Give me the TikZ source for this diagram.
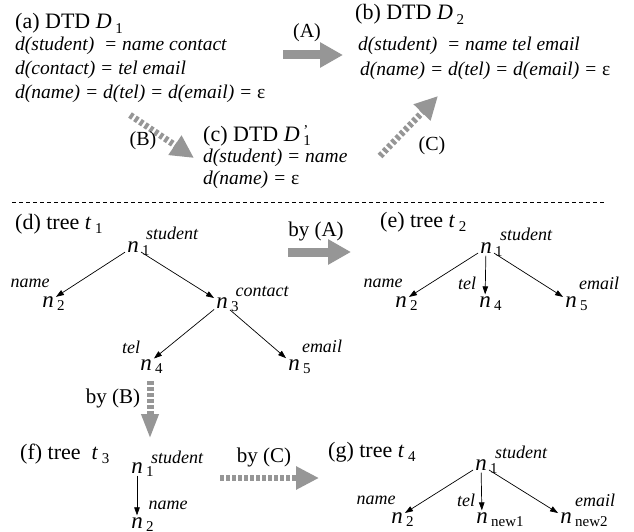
\documentclass[tikz,border=0pt]{standalone}
\usepackage{fontspec}
\setmainfont{Liberation Serif}
\usetikzlibrary{arrows.meta}
\definecolor{arrgray}{RGB}{150,150,150}
\newcommand\sbs[1]{\raisebox{-0.45ex}{\fontsize{15}{15}\selectfont #1}}
\newcommand\Done{\textit{D}\,\sbs{1}}
\begin{document}
\begin{tikzpicture}[x=1pt,y=-1pt,
  title/.style={anchor=base west, inner sep=0, font=\fontsize{22}{24}\selectfont},
  rule/.style={anchor=base west, inner sep=0, font=\fontsize{19.5}{22}\selectfont\itshape},
  lbl/.style={inner sep=0, font=\fontsize{18}{20}\selectfont\itshape},
  tn/.style={inner sep=2pt, font=\fontsize{23}{24}\selectfont\itshape},
  sub/.style={inner sep=0, anchor=west, xshift=1pt, yshift=-4pt, font=\fontsize{15}{15}\selectfont\upshape},
  lab/.style={inner sep=0, font=\fontsize{20}{22}\selectfont},
  edge/.style={-{Triangle[length=8pt,width=5.5pt]}, line width=0.7pt},
  bigarr/.style={arrgray, line width=9pt, -{Triangle[length=23pt,width=24pt]}},
  dasharr/.style={arrgray, line width=6.5pt, dash pattern=on 3.5pt off 2.5pt, -{Triangle[length=23pt,width=22pt]}}
]
\path[use as bounding box] (0,0) rectangle (634,532);

% ---------- DTDs ----------
\node[title] (ta) at (15,29) {(a) DTD \Done};
\node[rule] (a1) at (15,51) {d(student)~ = name contact};
\node[rule] (a2) at (15,75) {d(contact) = tel email};
\node[rule] (a3) at (15,99) {d(name) = d(tel) = d(email) = \upshape ε};

\node[title] (tb) at (355,20) {(b) DTD \textit{D}\,\sbs{2}};
\node[rule] (b1) at (358,51) {d(student)~ = name tel email};
\node[rule] (b2) at (360,76) {d(name) = d(tel) = d(email) = \upshape ε};

\node[title] (tc) at (203,141) {(c) DTD \textit{D}\,\makebox[0pt][l]{\sbs{1}}\raisebox{0.55ex}{\fontsize{15}{15}\selectfont ’}};
\node[rule] (c1) at (203,162) {d(student) = name};
\node[rule] (c2) at (203,184) {d(name) = \upshape ε};

\coordinate (As) at (283,55); \coordinate (Ae) at (343,55);
\draw[bigarr] (As) -- (Ae);
\node[lab] (lA) at (307,33) {(A)};
\coordinate (Bs) at (130,115); \coordinate (Be) at (194,158);
\draw[dasharr] (Bs) -- (Be);
\node[lab] (lB) at (143,141) {(B)};
\coordinate (Cs) at (380,156); \coordinate (Ce) at (438,96);
\draw[dasharr] (Cs) -- (Ce);
\node[lab] (lC) at (432,146) {(C)};

% separator
\coordinate (s1) at (12,202); \coordinate (s2) at (605,202);
\draw[line width=0.6pt, dash pattern=on 4pt off 3pt] (s1) -- (s2);

% ---------- tree t1 ----------
\node[title] (td) at (15,229) {(d) tree \textit{t}\,\sbs{1}};
\node[tn, label={[sub]east:1}] (d1) at (133,247) {n};
\node[tn, label={[sub]east:2}] (d2) at (48,302) {n};
\node[tn, label={[sub]east:3}] (d3) at (222,303) {n};
\node[tn, label={[sub]east:4}] (d4) at (146,365) {n};
\node[tn, label={[sub]east:5}] (d5) at (294,365) {n};
\node[lbl] (ld1) at (172,233) {student};
\node[lbl] (ld2) at (30,283) {name};
\node[lbl] (ld3) at (262,292) {contact};
\node[lbl] (ld4) at (131,347) {tel};
\node[lbl] (ld5) at (322,346) {email};
\draw[edge] (d1) -- (d2);
\draw[edge] (d1) -- (d3);
\draw[edge] (d3) -- (d4);
\draw[edge] (d3) -- (d5);

% by (A)
\coordinate (A2s) at (288,252); \coordinate (A2e) at (351,252);
\draw[bigarr] (A2s) -- (A2e);
\node[lab, font=\fontsize{21}{22}\selectfont] (lA2) at (316,231) {by (A)};

% ---------- tree t2 ----------
\node[title] (te) at (380,227) {(e) tree \textit{t}\,\sbs{2}};
\node[tn, label={[sub]east:1}] (e1) at (486,248) {n};
\node[tn, label={[sub]east:2}] (e2) at (401,302) {n};
\node[tn, label={[sub]east:4}] (e4) at (485,302) {n};
\node[tn, label={[sub]east:5}] (e5) at (571,302) {n};
\node[lbl] (le1) at (526,234) {student};
\node[lbl] (le2) at (383,283) {name};
\node[lbl] (le4) at (467,283) {tel};
\node[lbl] (le5) at (599,283) {email};
\draw[edge] (e1) -- (e2);
\draw[edge] (e1) -- (e4);
\draw[edge] (e1) -- (e5);

% by (B)
\coordinate (B2s) at (150,381); \coordinate (B2e) at (150,439);
\draw[dasharr, line width=7pt, -{Triangle[length=25pt,width=16pt]}] (B2s) -- (B2e);
\node[lab, font=\fontsize{21}{22}\selectfont] (lB2) at (113,398) {by (B)};

% ---------- tree t3 ----------
\node[title] (tf) at (20,459) {(f) tree~ \textit{t}\,\sbs{3}};
\node[tn, label={[sub]east:1}] (f1) at (137,468) {n};
\node[tn, label={[sub]east:2}] (f2) at (137,523) {n};
\node[lbl] (lf1) at (177,457) {student};
\node[lbl] (lf2) at (168,505) {name};
\draw[edge] (f1) -- (f2);

% by (C)
\coordinate (C2s) at (220,478); \coordinate (C2e) at (319,478);
\draw[dasharr] (C2s) -- (C2e);
\node[lab, font=\fontsize{21}{22}\selectfont] (lC2) at (264,457) {by (C)};

% ---------- tree t4 ----------
\node[title] (tg) at (328,457) {(g) tree \textit{t}\,\sbs{4}};
\node[tn, label={[sub]east:1}] (g1) at (481,465) {n};
\node[tn, label={[sub]east:2}] (g2) at (397,518) {n};
\node[tn, label={[sub]east:new1}] (g3) at (482,518) {n};
\node[tn, label={[sub]east:new2}] (g4) at (566,518) {n};
\node[lbl] (lg1) at (521,452) {student};
\node[lbl] (lg2) at (376,500) {name};
\node[lbl] (lg3) at (466,500) {tel};
\node[lbl] (lg4) at (595,500) {email};
\draw[edge] (g1) -- (g2);
\draw[edge] (g1) -- (g3);
\draw[edge] (g1) -- (g4);
\end{tikzpicture}
\end{document}
